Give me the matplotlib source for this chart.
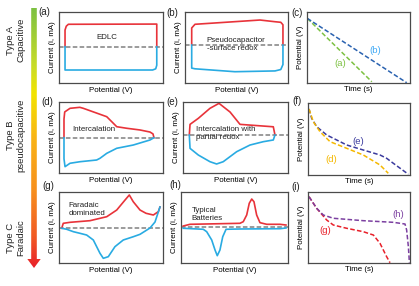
import numpy as np
import matplotlib
matplotlib.use("Agg")
import matplotlib.pyplot as plt
from matplotlib.patches import Polygon
from matplotlib.colors import LinearSegmentedColormap

plt.rcParams['font.family'] = ['Liberation Sans', 'DejaVu Sans']

W, H = 419, 286
RED = '#e8333a'
BLUE = '#29abe2'
GREY = '#808080'

# --- CV curves (normalised potential, normalised current) ---
a_red_x = [0.058, 0.058, 0.07, 0.09, 0.94, 0.94]
a_red_y = [0.512, 0.746, 0.80, 0.827, 0.83, 0.512]
a_blue_x = [0.058, 0.058, 0.9, 0.93, 0.94, 0.94]
a_blue_y = [0.512, 0.183, 0.183, 0.2, 0.25, 0.512]
a_base = 0.512

b_red_x = [0.065, 0.065, 0.097, 0.728, 0.874, 0.93, 0.951, 0.951]
b_red_y = [0.535, 0.775, 0.827, 0.887, 0.863, 0.855, 0.82, 0.535]
b_blue_x = [0.065, 0.065, 0.097, 0.485, 0.874, 0.93, 0.951, 0.951]
b_blue_y = [0.535, 0.21, 0.2, 0.159, 0.17, 0.19, 0.26, 0.535]
b_base = 0.535

d_red_x = [0.048, 0.048, 0.055, 0.106, 0.2, 0.234, 0.459, 0.507, 0.555, 0.651, 0.779, 0.875, 0.904, 0.913]
d_red_y = [0.497, 0.76, 0.86, 0.911, 0.925, 0.911, 0.793, 0.723, 0.652, 0.63, 0.606, 0.577, 0.55, 0.497]
d_blue_x = [0.048, 0.048, 0.058, 0.106, 0.202, 0.362, 0.394, 0.459, 0.555, 0.714, 0.875, 0.913]
d_blue_y = [0.497, 0.2, 0.089, 0.137, 0.159, 0.183, 0.207, 0.277, 0.348, 0.394, 0.465, 0.497]
d_base = 0.497

e_red_x = [0.06, 0.067, 0.146, 0.257, 0.343, 0.448, 0.543, 0.86, 0.876]
e_red_y = [0.535, 0.685, 0.77, 0.911, 0.981, 0.859, 0.685, 0.651, 0.535]
e_blue_x = [0.06, 0.067, 0.146, 0.257, 0.32, 0.383, 0.511, 0.638, 0.765, 0.86, 0.876]
e_blue_y = [0.535, 0.347, 0.253, 0.159, 0.127, 0.159, 0.3, 0.394, 0.441, 0.465, 0.535]
e_base = 0.535

g_red_x = [0.026, 0.041, 0.106, 0.298, 0.459, 0.555, 0.635, 0.676, 0.714, 0.779, 0.837, 0.907, 0.955, 0.971]
g_red_y = [0.489, 0.559, 0.573, 0.596, 0.652, 0.746, 0.887, 0.958, 0.863, 0.746, 0.70, 0.676, 0.723, 0.789]
g_blue_x = [0.026, 0.074, 0.138, 0.202, 0.266, 0.33, 0.394, 0.426, 0.474, 0.538, 0.618, 0.714, 0.779, 0.875, 0.923, 0.971]
g_blue_y = [0.489, 0.475, 0.441, 0.418, 0.394, 0.324, 0.137, 0.066, 0.089, 0.23, 0.324, 0.37, 0.404, 0.493, 0.577, 0.789]
g_base = 0.489

h_red_x = [0.021, 0.084, 0.551, 0.582, 0.614, 0.638, 0.661, 0.682, 0.707, 0.738, 0.801, 0.925, 0.981]
h_red_y = [0.521, 0.545, 0.559, 0.582, 0.676, 0.841, 0.901, 0.863, 0.676, 0.568, 0.545, 0.545, 0.535]
h_blue_x = [0.021, 0.208, 0.24, 0.287, 0.318, 0.339, 0.364, 0.39, 0.421, 0.551, 0.925, 0.981]
h_blue_y = [0.489, 0.475, 0.441, 0.324, 0.183, 0.103, 0.183, 0.37, 0.475, 0.479, 0.483, 0.493]
h_base = 0.503

# --- discharge curves (normalised time, normalised potential) ---
c_a_x = [0.003, 0.629]
c_a_y = [0.91, 0.018]
c_b_x = [0.003, 0.968]
c_b_y = [0.91, 0.004]

f_e_x = [0.01, 0.036, 0.085, 0.183, 0.379, 0.542, 0.706, 0.771, 0.837, 0.984]
f_e_y = [0.917, 0.787, 0.671, 0.556, 0.417, 0.347, 0.278, 0.232, 0.162, 0.01]
f_d_x = [0.01, 0.052, 0.118, 0.216, 0.379, 0.542, 0.706, 0.787]
f_d_y = [0.917, 0.74, 0.601, 0.463, 0.371, 0.278, 0.139, 0.024]

i_g_x = [0.01, 0.085, 0.183, 0.248, 0.379, 0.542, 0.641, 0.706, 0.771, 0.804]
i_g_y = [0.934, 0.77, 0.606, 0.535, 0.489, 0.441, 0.394, 0.277, 0.089, 0.004]
i_h_x = [0.01, 0.085, 0.15, 0.248, 0.542, 0.837, 0.951, 0.967, 0.984, 0.994]
i_h_y = [0.934, 0.77, 0.676, 0.63, 0.596, 0.573, 0.549, 0.465, 0.23, 0.004]

fig = plt.figure(figsize=(W / 100, H / 100), dpi=100)


def box(x0, y0, x1, y1):
    ax = fig.add_axes([x0 / W, 1 - y1 / H, (x1 - x0) / W, (y1 - y0) / H])
    ax.set_xlim(0, 1)
    ax.set_ylim(0, 1)
    ax.set_xticks([])
    ax.set_yticks([])
    for s in ax.spines.values():
        s.set_color('#4a4a4a')
        s.set_linewidth(0.9)
    return ax


def cv_panel(rect, rx, ry, bx, by, base, text, tx, ty):
    ax = box(*rect)
    ax.axhline(base, color=GREY, lw=1.1, ls=(0, (3, 1.5)), zorder=1)
    ax.plot(rx, ry, color=RED, lw=1.2, zorder=2)
    ax.plot(bx, by, color=BLUE, lw=1.2, zorder=2)
    ax.text(tx, ty, text, transform=ax.transAxes, fontsize=5.7,
            va='center', ha='left', color='#222222', linespacing=1.2)
    ax.set_xlabel('Potential (V)', fontsize=5.7, labelpad=3)
    ax.set_ylabel('Current (i, mA)', fontsize=5.7, labelpad=2)
    return ax


def gcd_panel(rect):
    ax = box(*rect)
    ax.set_xlabel('Time (s)', fontsize=5.7, labelpad=2)
    ax.set_ylabel('Potential (V)', fontsize=5.7, labelpad=2)
    return ax


cv_panel((59, 12, 163, 83), a_red_x, a_red_y, a_blue_x, a_blue_y, a_base,
         'EDLC', 0.356, 0.634)
cv_panel((185, 12, 288, 83), b_red_x, b_red_y, b_blue_x, b_blue_y, b_base,
         'Pseudocapacitor\n-surface redox', 0.21, 0.545)
cv_panel((59, 102, 163, 173), d_red_x, d_red_y, d_blue_x, d_blue_y, d_base,
         'Intercalation', 0.125, 0.606)
cv_panel((183, 102, 288, 173), e_red_x, e_red_y, e_blue_x, e_blue_y, e_base,
         'Intercalation with\npartial redox', 0.124, 0.552)
cv_panel((59, 192, 163, 263), g_red_x, g_red_y, g_blue_x, g_blue_y, g_base,
         'Faradaic\ndominated', 0.09, 0.754)
cv_panel((181, 192, 288, 263), h_red_x, h_red_y, h_blue_x, h_blue_y, h_base,
         'Typical\nBatteries', 0.1, 0.68)

dash = (0, (3, 1.5))
ax = gcd_panel((307, 12, 410, 83))
ax.plot(c_a_x, c_a_y, color='#7dc142', lw=1.1, ls=dash)
ax.plot(c_b_x, c_b_y, color='#2a62b0', lw=1.1, ls=dash)
ax.text(0.66, 0.46, '(b)', color='#3fa9f5', fontsize=6.8, transform=ax.transAxes, ha='center', va='center')
ax.text(0.32, 0.27, '(a)', color='#7dc142', fontsize=6.8, transform=ax.transAxes, ha='center', va='center')

ax = gcd_panel((308, 103, 410, 175))
ax.plot(f_e_x, f_e_y, color='#3b3b9e', lw=1.1, ls=dash)
ax.plot(f_d_x, f_d_y, color='#f5b800', lw=1.1, ls=dash)
ax.text(0.49, 0.46, '(e)', color='#3b3b9e', fontsize=6.8, transform=ax.transAxes, ha='center', va='center')
ax.text(0.23, 0.22, '(d)', color='#f5b800', fontsize=6.8, transform=ax.transAxes, ha='center', va='center')

ax = gcd_panel((308, 192, 410, 263))
ax.plot(i_g_x, i_g_y, color='#e8202a', lw=1.1, ls=dash)
ax.plot(i_h_x, i_h_y, color='#7b3fa0', lw=1.1, ls=dash)
ax.text(0.88, 0.69, '(h)', color='#7b3fa0', fontsize=6.8, transform=ax.transAxes, ha='center', va='center')
ax.text(0.17, 0.46, '(g)', color='#e8202a', fontsize=6.8, transform=ax.transAxes, ha='center', va='center')

# overlay for panel letters, row labels and the gradient arrow
ov = fig.add_axes([0, 0, 1, 1])
ov.set_xlim(0, W)
ov.set_ylim(H, 0)
ov.axis('off')
ov.patch.set_alpha(0)

letters = ['(a)', '(b)', '(c)', '(d)', '(e)', '(f)', '(g)', '(h)', '(i)']
letter_x = [44, 172, 297, 47, 172, 297, 48, 175, 296]
letter_y = [12, 12.5, 13.5, 102, 102, 100.5, 186, 185.5, 187]
for t, x, y in zip(letters, letter_x, letter_y):
    ov.text(x, y, t, fontsize=7, ha='center', va='center', color='#222222')

rows = ['Type A\nCapacitive', 'Type B\npseudocapacitive', 'Type C\nFaradaic']
row_y = [40, 135, 238]
for t, y in zip(rows, row_y):
    ov.text(15.5, y, t, fontsize=6.8, rotation=90, ha='center', va='center',
            multialignment='center', color='#222222', linespacing=1.25)

cmap = LinearSegmentedColormap.from_list('arrow', [
    (0.0, '#7dc142'), (0.22, '#c8dc28'), (0.33, '#f2e400'),
    (0.5, '#f9b416'), (0.7, '#f7901e'), (0.88, '#f15a24'), (1.0, '#e8202a')])
grad = np.linspace(0, 1, 256).reshape(-1, 1)
im = ov.imshow(grad, cmap=cmap, extent=[27, 42, 268, 8], aspect='auto', zorder=3)
arrow = Polygon([(31.2, 8), (36.8, 8), (36.8, 259), (40.7, 259), (34, 268),
                 (27.3, 259), (31.2, 259)], closed=True, transform=ov.transData,
                facecolor='none', edgecolor='none')
ov.add_patch(arrow)
im.set_clip_path(arrow)
ov.set_xlim(0, W)
ov.set_ylim(H, 0)

fig.savefig('out.png', dpi=100)
